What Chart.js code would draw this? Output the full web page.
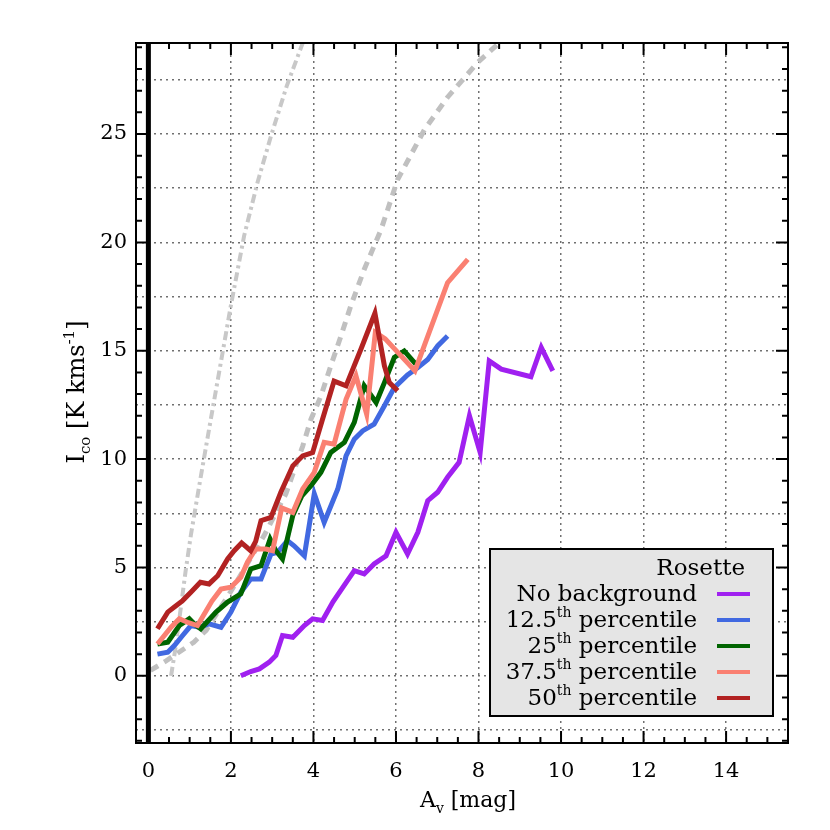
<!DOCTYPE html>
<html>
<head>
<meta charset="utf-8">
<title>Rosette I_co vs A_v</title>
<script src="https://cdn.jsdelivr.net/npm/chart.js@4.4.1/dist/chart.umd.min.js"></script>
<style>
  html, body { margin: 0; padding: 0; background: #fff; }
  #wrap { width: 830px; height: 830px; }
</style>
</head>
<body>
<div id="wrap"><canvas id="iCoChart" width="830" height="830"></canvas></div>
<script>
// axis ranges
const xMin = -0.3, xMax = 15.5;
const yMin = -3.1, yMax = 29.2;

// No background (purple)
const noBgX = [2.24, 2.48, 2.69, 2.93, 3.09, 3.25, 3.5, 3.78, 3.98, 4.22, 4.47, 4.72, 4.99, 5.23, 5.47, 5.76, 6.0, 6.28, 6.53, 6.77, 7.01, 7.25, 7.53, 7.78, 8.04, 8.26, 8.55, 9.27, 9.52, 9.8];
const noBgY = [0.0, 0.2, 0.32, 0.63, 0.94, 1.86, 1.78, 2.32, 2.63, 2.55, 3.4, 4.1, 4.85, 4.7, 5.16, 5.54, 6.62, 5.62, 6.62, 8.08, 8.47, 9.16, 9.85, 12.0, 10.31, 14.53, 14.15, 13.8, 15.15, 14.07];

// 12.5th percentile (blue)
const p125X = [0.22, 0.47, 0.63, 0.83, 1.03, 1.23, 1.47, 1.76, 2.0, 2.24, 2.48, 2.73, 2.97, 3.13, 3.37, 3.53, 3.78, 4.02, 4.26, 4.59, 4.79, 4.99, 5.19, 5.47, 5.72, 5.96, 6.28, 6.53, 6.77, 7.01, 7.25];
const p125Y = [1.0, 1.09, 1.4, 1.86, 2.32, 2.24, 2.4, 2.24, 2.94, 3.86, 4.47, 4.47, 5.62, 5.7, 6.24, 6.0, 5.54, 8.4, 7.08, 8.62, 10.15, 10.92, 11.3, 11.61, 12.46, 13.3, 13.88, 14.22, 14.6, 15.22, 15.68];

// 25th percentile (green)
const p25X = [0.22, 0.47, 0.75, 0.99, 1.11, 1.27, 1.64, 1.92, 2.24, 2.48, 2.73, 2.95, 3.09, 3.25, 3.5, 3.72, 3.94, 4.18, 4.42, 4.75, 4.99, 5.23, 5.52, 5.72, 5.96, 6.2, 6.48];
const p25Y = [1.47, 1.55, 2.32, 2.63, 2.4, 2.17, 2.94, 3.4, 3.78, 4.93, 5.08, 6.31, 5.77, 5.39, 7.4, 8.31, 8.77, 9.39, 10.31, 10.77, 11.69, 13.38, 12.61, 13.53, 14.69, 14.99, 14.38];

// 37.5th percentile (salmon)
const p375X = [0.22, 0.55, 0.75, 0.97, 1.19, 1.54, 1.76, 2.0, 2.24, 2.4, 2.6, 2.85, 3.01, 3.23, 3.5, 3.74, 4.02, 4.26, 4.5, 4.79, 5.03, 5.29, 5.5, 5.74, 6.46, 7.25, 7.74];
const p375Y = [1.47, 2.24, 2.63, 2.45, 2.32, 3.45, 4.0, 4.09, 4.55, 5.24, 5.85, 5.85, 5.77, 7.75, 7.54, 8.62, 9.39, 10.77, 10.69, 12.76, 13.84, 12.07, 15.85, 15.55, 14.07, 18.14, 19.22];

// 50th percentile (dark red)
const p50X = [0.22, 0.47, 0.63, 0.83, 1.03, 1.26, 1.47, 1.68, 1.92, 2.08, 2.26, 2.48, 2.6, 2.73, 2.97, 3.21, 3.5, 3.74, 3.98, 4.22, 4.5, 4.79, 5.15, 5.49, 5.72, 5.84, 6.04];
const p50Y = [2.17, 2.94, 3.17, 3.47, 3.86, 4.32, 4.24, 4.62, 5.39, 5.77, 6.13, 5.77, 6.2, 7.16, 7.31, 8.47, 9.69, 10.15, 10.3, 11.84, 13.6, 13.38, 15.07, 16.73, 14.3, 13.53, 13.15];

// grey reference curves
const dashedX = [0.05, 0.4, 1.1, 1.4, 2.0, 2.8, 3.33, 3.74, 3.94, 4.18, 4.42, 4.67, 4.91, 5.23, 5.64, 6.04, 6.69, 7.25, 7.98, 8.5];
const dashedY = [0.25, 0.65, 1.55, 2.1, 3.9, 6.46, 8.39, 10.6, 11.84, 12.9, 14.3, 15.7, 17.1, 18.75, 20.6, 22.9, 25.2, 26.7, 28.3, 29.2];
const dashDotX = [0.55, 0.65, 0.79, 0.9, 1.03, 1.26, 1.5, 1.76, 2.0, 2.32, 2.65, 2.97, 3.35, 3.74];
const dashDotY = [0.0, 1.2, 3.2, 4.8, 6.5, 9.08, 11.7, 14.5, 17.1, 20.3, 22.8, 24.9, 27.2, 29.2];

// thick line at A_v = 0
const zeroLineX = [0, 0];
const zeroLineY = [yMin, yMax];

const xTickStep = 2, xMinorStep = 0.5;
const yGridStep = 2.5, yLabelStep = 5, yMinorStep = 1;

const legendTitle = 'Rosette';
const seriesLabels = ['No background', '12.5^{th} percentile', '25^{th} percentile', '37.5^{th} percentile', '50^{th} percentile'];
const seriesColors = ['#a020f0', '#4169e1', '#006400', '#fa8072', '#b22222'];
const xTitle = 'A_{v} [mag]';
const yTitle = 'I_{co} [K kms^{-1}]';

const FONT = '"DejaVu Serif", "Liberation Serif", serif';

function pts(xs, ys) {
    return xs.map((v, i) => ({ x: v, y: ys[i] }));
}

// split "a^{b} c_{d}" into normal / sup / sub pieces
function richParts(text) {
    return text.split(/([_^]\{[^}]*\})/).filter(Boolean).map(p => {
        if (p[0] === '^' && p[1] === '{') return { t: p.slice(2, -1), k: 'sup' };
        if (p[0] === '_' && p[1] === '{') return { t: p.slice(2, -1), k: 'sub' };
        return { t: p, k: 'n' };
    });
}

function drawRich(ctx, text, x, y, size, align) {
    const parts = richParts(text);
    const fontFor = k => `${k === 'n' ? size : Math.round(size * 0.62)}px ${FONT}`;
    let w = 0;
    parts.forEach(p => { ctx.font = fontFor(p.k); p.w = ctx.measureText(p.t).width; w += p.w; });
    let cx = align === 'right' ? x - w : align === 'center' ? x - w / 2 : x;
    ctx.textAlign = 'left';
    ctx.textBaseline = 'alphabetic';
    parts.forEach(p => {
        ctx.font = fontFor(p.k);
        const dy = p.k === 'sup' ? -size * 0.42 : p.k === 'sub' ? size * 0.25 : 0;
        ctx.fillText(p.t, cx, y + dy);
        cx += p.w;
    });
}

// box frame + inward ticks on all four sides
const frameTicks = {
    id: 'frameTicks',
    afterDatasetsDraw(chart) {
        const { ctx, chartArea: a, scales: { x, y } } = chart;
        ctx.save();
        ctx.strokeStyle = '#000';
        ctx.lineWidth = 2;
        ctx.beginPath();
        for (let v = Math.ceil(xMin / xMinorStep) * xMinorStep; v <= xMax + 1e-9; v += xMinorStep) {
            const px = x.getPixelForValue(v);
            const len = Math.abs(v % xTickStep) < 1e-6 ? 12 : 6;
            ctx.moveTo(px, a.bottom); ctx.lineTo(px, a.bottom - len);
            ctx.moveTo(px, a.top); ctx.lineTo(px, a.top + len);
        }
        for (let v = Math.ceil(yMin / yMinorStep) * yMinorStep; v <= yMax + 1e-9; v += yMinorStep) {
            const py = y.getPixelForValue(v);
            const len = Math.abs(v % yLabelStep) < 1e-6 ? 12 : 6;
            ctx.moveTo(a.left, py); ctx.lineTo(a.left + len, py);
            ctx.moveTo(a.right, py); ctx.lineTo(a.right - len, py);
        }
        ctx.stroke();
        ctx.strokeRect(a.left, a.top, a.right - a.left, a.bottom - a.top);
        ctx.restore();
    }
};

// axis titles and the IDL style legend box
const titlesLegend = {
    id: 'titlesLegend',
    afterDraw(chart) {
        const { ctx, chartArea: a } = chart;
        ctx.save();
        ctx.fillStyle = '#000';
        drawRich(ctx, xTitle, 468, 807, 22, 'center');

        ctx.save();
        ctx.translate(84, 392);
        ctx.rotate(-Math.PI / 2);
        drawRich(ctx, yTitle, 0, 0, 24, 'center');
        ctx.restore();

        // legend
        const bx = 490, by = 549, bw = 283, bh = 167;
        ctx.fillStyle = '#e5e5e5';
        ctx.fillRect(bx, by, bw, bh);
        ctx.strokeStyle = '#000';
        ctx.lineWidth = 2;
        ctx.strokeRect(bx, by, bw, bh);
        ctx.fillStyle = '#000';
        drawRich(ctx, legendTitle, 745, 575, 23, 'right');
        seriesLabels.forEach((lab, i) => {
            const base = 601 + i * 26;
            ctx.fillStyle = '#000';
            drawRich(ctx, lab, 697, base, 23, 'right');
            ctx.strokeStyle = seriesColors[i];
            ctx.lineWidth = 4;
            ctx.beginPath();
            ctx.moveTo(717, base - 7);
            ctx.lineTo(750, base - 7);
            ctx.stroke();
        });
        ctx.restore();
    }
};

function lineSet(label, xs, ys, color, width, dash) {
    return {
        label: label,
        data: pts(xs, ys),
        borderColor: color,
        backgroundColor: color,
        borderWidth: width,
        borderDash: dash || [],
        pointRadius: 0,
        showLine: true,
        fill: false,
        tension: 0,
        clip: 0
    };
}

const ctx = document.getElementById('iCoChart').getContext('2d');
const chart = new Chart(ctx, {
    type: 'scatter',
    data: {
        datasets: [
            lineSet('zero', zeroLineX, zeroLineY, '#000', 5),
            lineSet(seriesLabels[4], p50X, p50Y, seriesColors[4], 5),
            lineSet(seriesLabels[3], p375X, p375Y, seriesColors[3], 5),
            lineSet(seriesLabels[2], p25X, p25Y, seriesColors[2], 5),
            lineSet(seriesLabels[1], p125X, p125Y, seriesColors[1], 5),
            lineSet(seriesLabels[0], noBgX, noBgY, seriesColors[0], 5),
            lineSet('dashed', dashedX, dashedY, '#c0c0c0', 5, [9, 7]),
            lineSet('dash-dot', dashDotX, dashDotY, '#c8c8c8', 4, [9, 4, 3, 4])
        ]
    },
    options: {
        responsive: false,
        animation: false,
        layout: { padding: { left: 0, top: 43, right: 42, bottom: 0 } },
        plugins: {
            legend: { display: false },
            tooltip: { enabled: false }
        },
        scales: {
            x: {
                type: 'linear',
                min: xMin,
                max: xMax,
                afterFit: (s) => { s.height = 87; },
                grid: { color: '#707070', lineWidth: 1.5, drawTicks: false },
                border: { display: false, dash: [2, 4] },
                ticks: {
                    stepSize: xTickStep,
                    includeBounds: false,
                    autoSkip: false,
                    maxRotation: 0,
                    padding: 16,
                    color: '#000',
                    font: { family: FONT, size: 21 }
                }
            },
            y: {
                type: 'linear',
                min: yMin,
                max: yMax,
                afterFit: (s) => { s.width = 136; },
                grid: { color: '#707070', lineWidth: 1.5, drawTicks: false },
                border: { display: false, dash: [2, 4] },
                ticks: {
                    stepSize: yGridStep,
                    includeBounds: false,
                    autoSkip: false,
                    padding: 9,
                    color: '#000',
                    font: { family: FONT, size: 21 },
                    callback: (v) => (Math.abs(v % yLabelStep) < 1e-6 ? String(v) : '')
                }
            }
        }
    },
    plugins: [frameTicks, titlesLegend]
});
</script>
</body>
</html>
